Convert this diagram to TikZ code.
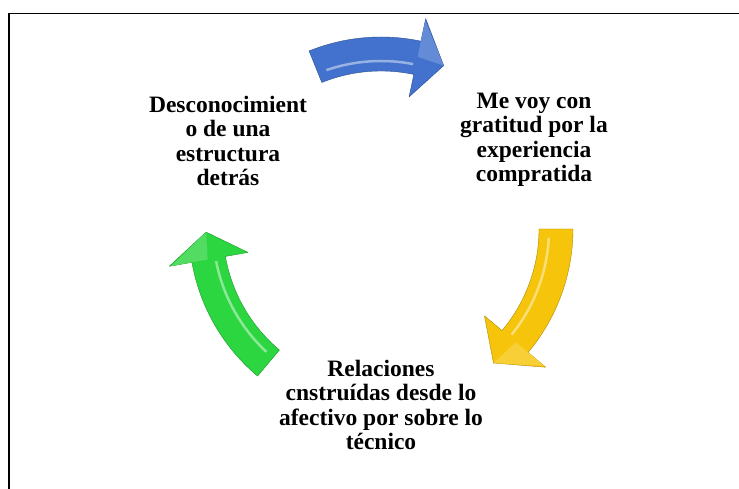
\documentclass[tikz,border=0pt]{standalone}
\usepackage{fontspec}
\setmainfont{Liberation Serif}
\definecolor{azul}{RGB}{66,114,205}
\definecolor{amarillo}{RGB}{246,196,10}
\definecolor{verde}{RGB}{44,214,64}
\tikzset{texto/.style={align=center,inner sep=0pt,font=\fontsize{23.5}{24.5}\selectfont\bfseries}}
% flecha curva: cola, base de la punta, punta, color
\newcommand{\flecha}[4]{%
\filldraw[fill=#4,draw=#4!70!black,line width=0.4pt,line join=round]
  (#1:192) arc[start angle=#1,end angle=#2,radius=192pt] -- (#2:215) -- (#3:175)
  -- (#2:135) -- (#2:158) arc[start angle=#2,end angle=#1,radius=158pt] -- cycle;
\fill[#4!82!white] (#2:176) -- (#2:213) -- (#3:175) -- cycle;
\draw[#4!55!white,line width=2.5pt] (#1-3:168) arc[start angle=#1-3,end angle=#2+1,radius=168pt];
}
\begin{document}
\begin{tikzpicture}[x=1pt,y=1pt]
\useasboundingbox (0,0) rectangle (739,489);
\draw[line width=1.5pt] (9,0) -- (9,475.5) -- (739,475.5);
\coordinate (ciclo) at (381,260);
\begin{scope}[shift={(ciclo)}]
\flecha{112}{78}{69}{azul}
\flecha{0}{-40}{-50}{amarillo}
\flecha{230}{190}{181}{verde}
\end{scope}
\node[texto] (desc) at (228,348) {Desconocimient\\o de una\\estructura\\detrás};
\node[texto] (grat) at (534,349) {Me voy con\\gratitud por la\\experiencia\\compratida};
\node[texto] (rel) at (381,84) {Relaciones\\cnstruídas desde lo\\afectivo por sobre lo\\técnico};
\end{tikzpicture}
\end{document}
